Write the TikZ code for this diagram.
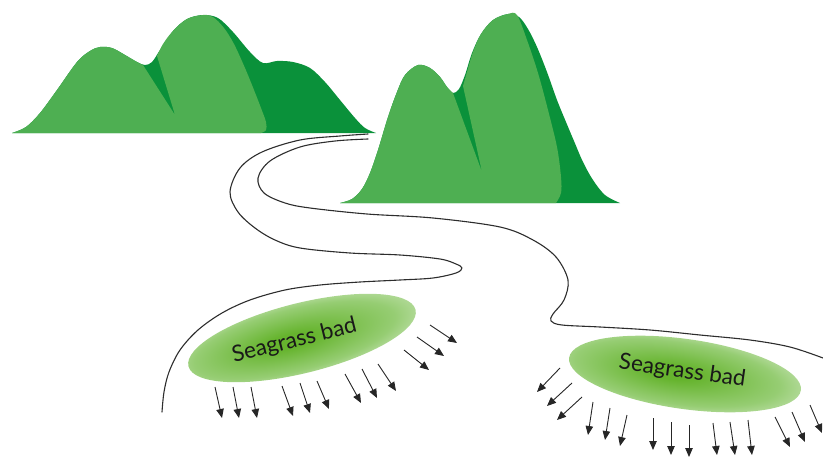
\documentclass[tikz,border=0pt]{standalone}
\usepackage{fontspec}
\setmainfont{Lato}
\usetikzlibrary{arrows.meta,shapes.geometric}
\definecolor{hilllight}{RGB}{78,175,82}
\definecolor{hilldark}{RGB}{10,145,58}
\definecolor{bedcore}{RGB}{102,180,46}
\definecolor{bedmid}{RGB}{150,205,115}
\definecolor{bedrim}{RGB}{232,243,225}
\definecolor{inkline}{RGB}{45,45,45}
\pgfdeclareradialshading{bedshade}{\pgfpoint{-3bp}{0bp}}{color(0bp)=(bedcore); color(5bp)=(bedcore); color(22bp)=(bedmid); color(37bp)=(bedrim); color(50bp)=(bedrim)}
\tikzset{
  bank/.style={draw=inkline, line width=1.1pt, line cap=round, line join=round},
  outflow/.style={draw=black!85, line width=0.9pt, -{Triangle[length=9pt,width=7.5pt]}},
  bed/.style={ellipse, shade, shading=bedshade, minimum width=234pt, minimum height=70pt, inner sep=0pt},
  bedlabel/.style={font=\fontsize{22.5}{26}\selectfont, text=black!90, inner sep=0pt},
}
\begin{document}
\begin{tikzpicture}[x=1pt,y=-1pt]
\useasboundingbox (0,0) rectangle (823,458);

% river banks
\draw[bank] plot[smooth, tension=0.55] coordinates {(368,134) (340,136) (300,140) (262,152) (240,168) (230,192) (238,212) (255,228) (275,240) (300,248) (350,253) (400,255) (440,259) (456,264) (462,268) (456,273) (433,278) (400,280) (360,282) (320,285) (285,290) (250,300) (222,313) (198,330) (180,350) (169,372) (164,392) (162,412)};
\draw[bank] plot[smooth, tension=0.55] coordinates {(368,139) (335,141) (300,147) (270,161) (258,178) (264,193) (285,203) (310,208) (367,214) (433,218) (500,227) (533,240) (556,257) (568,280) (564,300) (553,314) (551,321) (562,325) (600,327) (650,330) (700,335) (750,340) (790,347) (823,358)};

% back range
\fill[hilldark] plot[smooth, tension=0.55] coordinates {(12,133) (26,127) (40,113) (57,90) (77,62) (90,51) (100,47) (112,48) (125,55) (137,62) (145,65) (152,62) (160,50) (173,31) (187,19) (203,15) (218,18) (233,32) (250,52) (263,63) (277,61) (293,62) (310,68) (325,82) (340,100) (355,118) (365,128) (376,133)} -- cycle;
\fill[hilllight] plot[smooth, tension=0.55] coordinates {(12,133) (26,127) (40,113) (57,90) (77,62) (90,51) (100,47) (112,48) (125,55) (137,62) (143,65)} -- (175,115) -- plot[smooth, tension=0.55] coordinates {(157,56) (163,44) (173,31) (187,19) (203,15) (213,17) (224,28) (234,44) (245,68) (254,90) (261,108) (266,122) (266,130) (261,133)} -- cycle;

% front range
\fill[hilldark] plot[smooth, tension=0.55] coordinates {(340,203) (352,199) (362,189) (370,173) (378,150) (388,117) (397,92) (405,75) (418,65) (430,68) (440,77) (447,87) (453,93) (459,89) (465,75) (472,53) (481,34) (493,20) (508,14) (519,17) (528,29) (537,47) (547,72) (557,100) (566,122) (574,141) (583,162) (593,180) (605,195) (620,203)} -- cycle;
\fill[hilllight] plot[smooth, tension=0.55] coordinates {(340,203) (352,199) (362,189) (370,173) (378,150) (388,117) (397,92) (405,75) (418,65) (430,68) (440,77) (447,87) (453,93)} -- (482,172) -- plot[smooth, tension=0.55] coordinates {(463,86) (467,72) (473,52) (481,34) (493,20) (508,14) (517,15) (527,40) (538,73) (548,110) (557,147) (561,177) (561,193) (556,203)} -- cycle;

% seagrass beds
\begin{scope}[transform canvas={rotate around={14:(302,338)}}]
  \node[bed] (bed1) at (302,338) {};
  \node[bedlabel] (bed1text) at (294,339) {Seagrass bad};
\end{scope}
\begin{scope}[transform canvas={rotate around={-8:(685,374)}}]
  \node[bed] (bed2) at (685,374) {};
  \node[bedlabel] (bed2text) at (682,372) {Seagrass bad};
\end{scope}

% outflow arrows
\foreach \ax/\ay/\bx/\by in {
  215/387/222/418, 233/387/239/418, 251/387/257/418,
  282/386/293/416, 300/383/310/413, 317/381/329/409,
  345/374/361/403, 362/369/377/398, 378/364/396/391,
  404/350/429/370, 417/337/444/356, 430/325/457/343,
  560/368/537/392, 572/383/547/406, 582/397/557/420,
  593/402/588/435, 610/408/605/440, 627/415/620/446,
  653/418/653/450, 671/422/671/455, 689/425/689/457,
  713/423/717/455, 730/422/735/455, 748/420/752/455,
  775/417/790/447, 792/412/805/442, 810/405/822/433}
  \draw[outflow] (\ax,\ay) -- (\bx,\by);
\end{tikzpicture}
\end{document}
